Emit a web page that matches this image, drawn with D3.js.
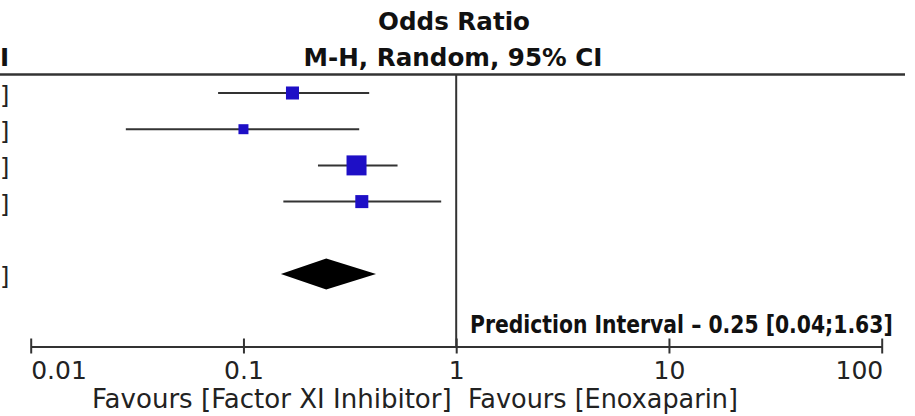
<!DOCTYPE html>
<html>
<head>
<meta charset="utf-8">
<script src="https://cdn.jsdelivr.net/npm/d3@7"></script>
<style>
  body { margin: 0; background: #fff; }
  text { font-family: "DejaVu Sans", sans-serif; }
</style>
</head>
<body>
<div id="chart"></div>
<script>
// study rows (odds ratio, 95% CI, weight %)
const oddsRatio = [0.17, 0.10, 0.34, 0.36];
const lower = [0.076, 0.028, 0.224, 0.154];
const upper = [0.39, 0.35, 0.53, 0.85];
const weights = [20.2, 11.9, 47.7, 20.2];
const rowIndex = [0, 1, 2, 3];

// pooled estimate and prediction interval
const pooled = [0.245, 0.15, 0.42];
const prediction = [0.25, 0.04, 1.63];
const pooledRow = 5;

const tickValues = [0.01, 0.1, 1, 10, 100];
const tickLabels = ["0.01", "0.1", "1", "10", "100"];
const favourLabels = ["Favours [Factor XI Inhibitor]", "Favours [Enoxaparin]"];
// only the last glyphs of the left-hand columns show inside the crop
const leftHeaderTail = "I";
const leftRowTail = "]";

const width = 915, height = 416;
const lineColor = "#333";
const boxColor = "#1e0fc6";

const svg = d3.select("#chart").append("svg")
  .attr("width", width)
  .attr("height", height);

const x = d3.scaleLog().domain([0.01, 100]).range([30.7, 881.7]);
const y = d3.scaleLinear().domain([0, 5]).range([93, 274]);
const size = d3.scaleSqrt().domain([0, d3.max(weights)]).range([0, 20]);
const axisY = 346.5;

// text squeezed horizontally to a given width (the source font is narrow)
function narrowText(x0, y0, w, fontSize, weight, str) {
  const g = svg.append("g");
  const t = g.append("text")
    .style("font-size", fontSize + "px")
    .style("font-weight", weight)
    .attr("fill", weight === "bold" ? "#111" : "#222")
    .text(str);
  const k = w / t.node().getComputedTextLength();
  g.attr("transform", `translate(${x0},${y0}) scale(${k},1)`);
}

// header
svg.append("text")
  .attr("x", 454).attr("y", 30)
  .attr("text-anchor", "middle")
  .style("font-size", "24.6px").style("font-weight", "bold").attr("fill", "#111")
  .text("Odds Ratio");
svg.append("text")
  .attr("x", 453).attr("y", 66)
  .attr("text-anchor", "middle")
  .style("font-size", "24.6px").style("font-weight", "bold").attr("fill", "#111")
  .text("M-H, Random, 95% CI");
svg.append("text")
  .attr("x", 0).attr("y", 66)
  .style("font-size", "24.6px").style("font-weight", "bold").attr("fill", "#111")
  .text(leftHeaderTail);

svg.append("line")
  .attr("x1", 0).attr("x2", 905)
  .attr("y1", 74.5).attr("y2", 74.5)
  .attr("stroke", lineColor).attr("stroke-width", 2.5);

// line of no effect
svg.append("line")
  .attr("x1", x(1)).attr("x2", x(1))
  .attr("y1", 75).attr("y2", axisY)
  .attr("stroke", lineColor).attr("stroke-width", 2);

// closing brackets of the CI text column on the left
svg.selectAll(".ci-text")
  .data(rowIndex.concat([pooledRow]))
  .join("text")
  .attr("class", "ci-text")
  .attr("x", 0)
  .attr("y", r => y(r) + 11)
  .style("font-size", "24px")
  .attr("fill", "#222")
  .text(leftRowTail);

// CI whiskers
svg.selectAll(".ci")
  .data(rowIndex)
  .join("line")
  .attr("class", "ci")
  .attr("x1", i => x(lower[i]))
  .attr("x2", i => x(upper[i]))
  .attr("y1", i => y(i))
  .attr("y2", i => y(i))
  .attr("stroke", lineColor)
  .attr("stroke-width", 2);

// weighted squares
svg.selectAll(".box")
  .data(rowIndex)
  .join("rect")
  .attr("class", "box")
  .attr("x", i => x(oddsRatio[i]) - size(weights[i]) / 2)
  .attr("y", i => y(i) - size(weights[i]) / 2)
  .attr("width", i => size(weights[i]))
  .attr("height", i => size(weights[i]))
  .attr("fill", boxColor);

// pooled diamond
const py = y(pooledRow);
svg.append("path")
  .attr("d", d3.line()([
    [x(pooled[1]), py],
    [x(pooled[0]), py - 15.5],
    [x(pooled[2]), py],
    [x(pooled[0]), py + 15.5]
  ]) + "Z")
  .attr("fill", "#000");

// prediction interval note
const fmt = d3.format(".2f");
narrowText(470, 333, 423, 24, "bold",
  `Prediction Interval \u2013 ${fmt(prediction[0])} [${fmt(prediction[1])};${fmt(prediction[2])}]`);

// x axis
const axis = svg.append("g")
  .attr("transform", `translate(0,${axisY})`)
  .call(d3.axisBottom(x)
    .tickValues(tickValues)
    .tickFormat((d, i) => tickLabels[i])
    .tickSizeOuter(0));

axis.select(".domain").attr("stroke", lineColor).attr("stroke-width", 2.2);
axis.selectAll(".tick line")
  .attr("y1", -8).attr("y2", 7)
  .attr("stroke", lineColor).attr("stroke-width", 2);
axis.selectAll(".tick text")
  .attr("y", 32).attr("dy", null)
  .attr("fill", "#222")
  .style("font-size", "25px")
  .style("font-family", "DejaVu Sans, sans-serif")
  .attr("text-anchor", (d, i) => i === 0 ? "start" : i === tickValues.length - 1 ? "end" : "middle")
  .attr("dx", (d, i) => i === 0 ? 0 : i === tickValues.length - 1 ? 1 : 0);

// favours labels
narrowText(92, 408, 360, 27, "normal", favourLabels[0]);
narrowText(468, 408, 270, 27, "normal", favourLabels[1]);
</script>
</body>
</html>
